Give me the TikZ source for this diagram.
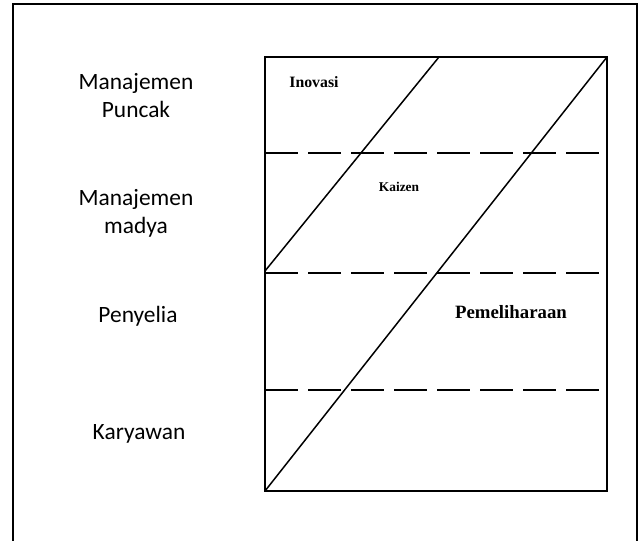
\documentclass[tikz,border=0pt]{standalone}
\usepackage{fontspec}
\setmainfont{Liberation Serif}
\newfontfamily\lvlfont{Carlito}
\begin{document}
\begin{tikzpicture}[x=0.5pt,y=-0.5pt,
    level/.style={font=\lvlfont\fontsize{11.7}{13.7}\selectfont, align=center, anchor=base},
    area/.style={font=\bfseries, anchor=base},
    band/.style={line width=0.75pt, dash pattern=on 16.5pt off 5pt}]
            \useasboundingbox (0,0) rectangle (639,541);
            \draw[line width=1pt] (13,600) -- (13,4) -- (637,4) -- (637,600);

            %Box
            \coordinate (bl) at (265,491);
            \coordinate (tr) at (607,57);
            \draw[line width=1pt] (bl) rectangle (tr);

            %Levels
            \draw[band] (265,153) -- (600,153);
            \draw[band] (265,273) -- (600,273);
            \draw[band] (265,390) -- (600,390);

            %Lines
            \draw[line width=0.75pt] (265,271) -- (439,57);
            \draw[line width=0.75pt] (bl) -- (tr);

            %Labels
            \node[level] (puncak) at (136,117) {Manajemen\\Puncak};
            \node[level] (madya) at (136,233) {Manajemen\\madya};
            \node[level] (penyelia) at (138,322) {Penyelia};
            \node[level] (karyawan) at (139,439) {Karyawan};
            \node[area, font=\bfseries\fontsize{7.9}{9}\selectfont] (inovasi) at (314,87) {Inovasi};
            \node[area, font=\bfseries\fontsize{6.7}{8}\selectfont] (kaizen) at (399,191) {Kaizen};
            \node[area, font=\bfseries\fontsize{9.4}{11}\selectfont] (pemeliharaan) at (511,318) {Pemeliharaan};
        \end{tikzpicture}
\end{document}
